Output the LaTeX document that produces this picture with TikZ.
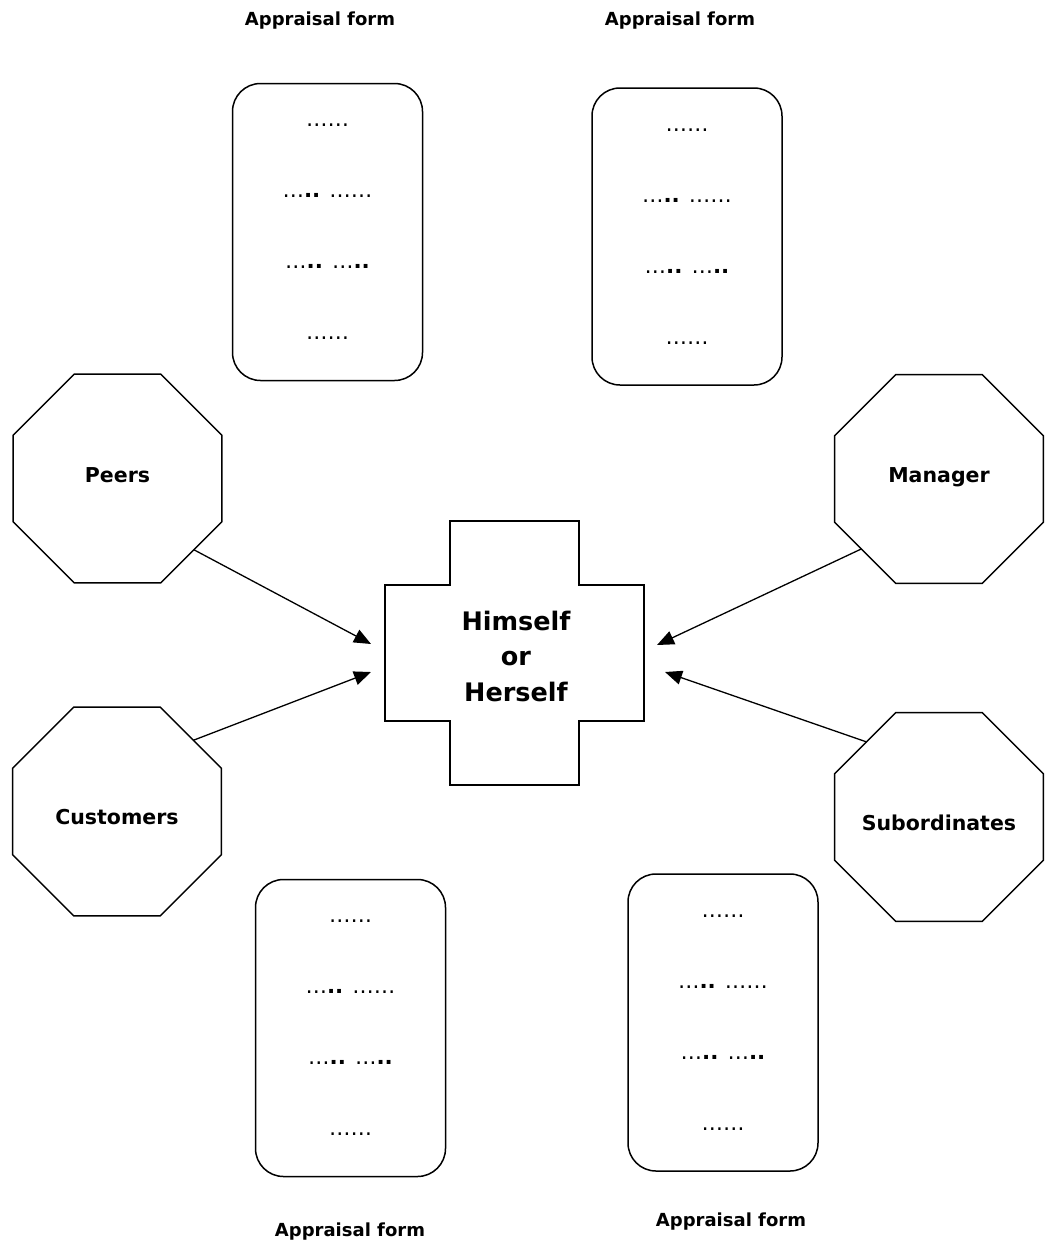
\documentclass[tikz,border=0pt]{standalone}
\usepackage{fontspec}
\setmainfont{DejaVu Sans}
\usetikzlibrary{shapes.geometric,arrows.meta,calc}

\tikzset{
  outline/.style={line width=1.5pt},
  rater/.style={outline, draw, regular polygon, regular polygon sides=8,
    minimum size=226pt, inner sep=0pt, outer sep=0pt,
    font=\fontsize{20.5}{24}\selectfont\bfseries},
  formbox/.style={outline, draw, rounded corners=28pt, minimum width=190pt,
    minimum height=297pt, inner sep=0pt, align=center,
    font=\fontsize{21.5}{71}\selectfont},
  formtitle/.style={anchor=base, inner sep=0pt,
    font=\fontsize{18}{20}\selectfont\bfseries},
  selfnode/.style={inner sep=0pt, align=center,
    font=\fontsize{25.5}{35.5}\selectfont\bfseries},
  feed/.style={line width=1.3pt, -{Triangle[length=17pt,width=14pt]}},
}
\newcommand{\twodots}{\textbf{..}}
% label of no size, baseline moved by #1 from the octagon's centre,
% so that the octagon keeps its set size
\newcommand{\ratername}[2]{\smash{\makebox[0pt]{\raisebox{#1}{#2}}}}

\begin{document}
\begin{tikzpicture}[x=1pt,y=-1pt]
\useasboundingbox (0,0) rectangle (1046,1248);

% appraisal forms
\node (formTL) [formbox] at (327.5,232) {……\\…\twodots{} ……\\…\twodots{} …\twodots\\……};
\node (formTR) [formbox] at (687,236.5) {……\\…\twodots{} ……\\…\twodots{} …\twodots\\……};
\node (formBL) [formbox] at (350.5,1028) {……\\…\twodots{} ……\\…\twodots{} …\twodots\\……};
\node (formBR) [formbox] at (723,1022.5) {……\\…\twodots{} ……\\…\twodots{} …\twodots\\……};

\node (titleTL) [formtitle] at (320,25) {Appraisal form};
\node (titleTR) [formtitle] at (680,25) {Appraisal form};
\node (titleBL) [formtitle] at (350,1236) {Appraisal form};
\node (titleBR) [formtitle] at (731,1226) {Appraisal form};

% raters
\node (peers) [rater] at (117.5,478.5) {\ratername{-4pt}{Peers}};
\node (manager) [rater] at (939,479) {\ratername{-3.5pt}{Manager}};
\node (customers) [rater] at (117,811.5) {\ratername{-13pt}{Customers}};
\node (subordinates) [rater] at (939,817) {\ratername{-13.5pt}{Subordinates}};

% the person appraised
\draw[outline] (450,521) -- (579,521) -- (579,585) -- (644,585) -- (644,721)
  -- (579,721) -- (579,785) -- (450,785) -- (450,721) -- (385,721)
  -- (385,585) -- (450,585) -- cycle;
\node (self) [selfnode] at (516,656) {Himself\\or\\Herself};

% arrow tips beside the cross
\coordinate (tipPeers) at (371,644);
\coordinate (tipCustomers) at (371,672);
\coordinate (tipManager) at (657,645);
\coordinate (tipSubordinates) at (665,672);

\draw[feed] (peers.-43.5) -- (tipPeers);
\draw[feed] (customers.43) -- (tipCustomers);
\draw[feed] (manager.-138.7) -- (tipManager);
\draw[feed] (subordinates.134.3) -- (tipSubordinates);
\end{tikzpicture}
\end{document}
